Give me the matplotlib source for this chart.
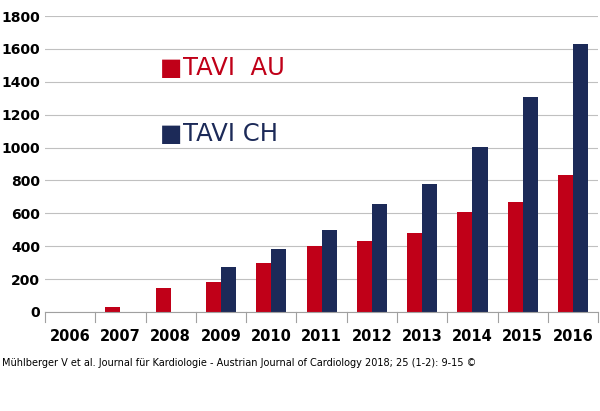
import matplotlib
matplotlib.use("Agg")
import matplotlib.pyplot as plt
import numpy as np

years = ["2006","2007","2008","2009","2010","2011","2012","2013","2014","2015","2016"]
tavi_au = [0, 30, 145, 185, 295, 400, 430, 480, 605, 670, 835]
tavi_ch = [0, 0, 0, 275, 380, 500, 655, 780, 1005, 1305, 1630]
yticks = [0, 200, 400, 600, 800, 1000, 1200, 1400, 1600, 1800]

fig = plt.figure(figsize=(6, 4.11), dpi=100)
ax = fig.add_axes([0.075, 0.241, 0.922, 0.72])
x = np.arange(len(years))
w = 0.3
ax.bar(x - w/2, tavi_au, w, color="#c00018")
ax.bar(x + w/2, tavi_ch, w, color="#1c2a58")
ax.set_xlim(-0.5, len(years) - 0.5)
ax.set_ylim(0, 1800)
ax.set_yticks(yticks)
ax.set_xticks(x)
ax.set_xticklabels(years, fontweight="bold", fontsize=10.5)
ax.tick_params(axis="y", labelsize=10, length=0)
ax.tick_params(axis="x", length=0, pad=12)
for lbl in ax.get_yticklabels():
    lbl.set_fontweight("bold")
ax.grid(axis="y", color="#c0c0c0", linewidth=0.8)
ax.set_axisbelow(True)
for s in ["top", "right", "left"]:
    ax.spines[s].set_visible(False)
ax.spines["bottom"].set_color("#a0a0a0")
for i in range(len(years) + 1):
    ax.plot([i - 0.5, i - 0.5], [0, -60], color="#a0a0a0", lw=0.8, clip_on=False)

ax.text(0.208, 0.825, "■", transform=ax.transAxes, color="#c00018", fontsize=17, va="center")
ax.text(0.249, 0.825, "TAVI  AU", transform=ax.transAxes, color="#c00018", fontsize=17.5, va="center")
ax.text(0.208, 0.60, "■", transform=ax.transAxes, color="#1c2a58", fontsize=17, va="center")
ax.text(0.249, 0.60, "TAVI CH", transform=ax.transAxes, color="#1c2a58", fontsize=17.5, va="center")

fig.text(0.003, 0.118, "Mühlberger V et al. Journal für Kardiologie - Austrian Journal of Cardiology 2018; 25 (1-2): 9-15 ©",
         fontsize=7, va="center")
fig.savefig("out.png", dpi=100)
